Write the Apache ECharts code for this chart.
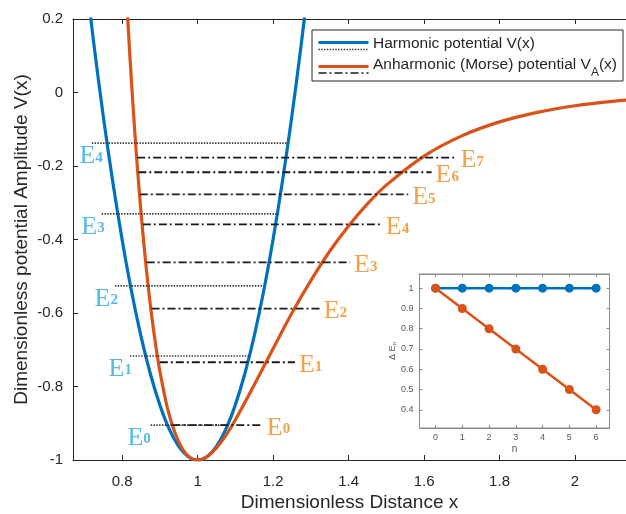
<!DOCTYPE html>
<html>
<head>
<meta charset="utf-8">
<script src="https://cdn.jsdelivr.net/npm/echarts@6/dist/echarts.min.js"></script>
<style>
  html, body { margin: 0; padding: 0; background: #fff; }
  #chart { width: 626px; height: 514px; }
</style>
</head>
<body>
<div id="chart"></div>
<script>
// ---- axis ticks ----
const xTicks = [0.8, 1, 1.2, 1.4, 1.6, 1.8, 2];
const xTickLabels = ['0.8', '1', '1.2', '1.4', '1.6', '1.8', '2'];
const yTicks = [-1, -0.8, -0.6, -0.4, -0.2, 0, 0.2];
const yTickLabels = ['-1', '-0.8', '-0.6', '-0.4', '-0.2', '0', '0.2'];

// ---- harmonic potential V(x) ----
const harmonicX = [0.700, 0.725, 0.750, 0.775, 0.800, 0.825, 0.850, 0.875, 0.900, 0.925, 0.950, 0.975, 1.000,
                   1.025, 1.050, 1.075, 1.100, 1.125, 1.150, 1.175, 1.200, 1.225, 1.250, 1.275, 1.300];
const harmonicV = [0.350, 0.134, -0.063, -0.241, -0.400, -0.541, -0.663, -0.766, -0.850, -0.916, -0.963, -0.991, -1.000,
                   -0.991, -0.963, -0.916, -0.850, -0.766, -0.663, -0.541, -0.400, -0.241, -0.063, 0.134, 0.350];

// ---- anharmonic (Morse) potential V_A(x) ----
const morseX = [0.810, 0.820, 0.830, 0.840, 0.850, 0.860, 0.870, 0.880, 0.890, 0.900, 0.920, 0.940, 0.960, 0.980, 1.000,
                1.025, 1.050, 1.075, 1.100, 1.150, 1.200, 1.250, 1.300, 1.350, 1.400, 1.450, 1.500, 1.600, 1.700,
                1.800, 1.900, 2.000, 2.100, 2.200];
const morseV = [0.295, 0.111, -0.052, -0.197, -0.324, -0.436, -0.535, -0.620, -0.694, -0.758, -0.858, -0.926, -0.970, -0.993, -1.000,
                -0.991, -0.967, -0.933, -0.891, -0.796, -0.697, -0.600, -0.512, -0.432, -0.363, -0.303, -0.252, -0.173, -0.118,
                -0.080, -0.054, -0.036, -0.024, -0.016];

// ---- energy levels ----
const harmonicLevelE    = [-0.905, -0.717, -0.526, -0.330, -0.138];
const harmonicLevelFrom = [0.876, 0.821, 0.781, 0.746, 0.720];
const harmonicLevelTo   = [1.080, 1.139, 1.174, 1.214, 1.240];

const morseLevelE    = [-0.905, -0.734, -0.588, -0.462, -0.359, -0.277, -0.217, -0.177];
const morseLevelFrom = [0.933, 0.900, 0.878, 0.865, 0.855, 0.847, 0.843, 0.840];
const morseLevelTo   = [1.173, 1.258, 1.324, 1.404, 1.488, 1.558, 1.620, 1.686];

// ---- inset: level spacing ΔE_n ----
const insetN = [0, 1, 2, 3, 4, 5, 6];
const insetHarmonic = [1, 1, 1, 1, 1, 1, 1];
const insetMorse = [1, 0.9, 0.8, 0.7, 0.6, 0.5, 0.4];
const insetYTicks = [0.4, 0.5, 0.6, 0.7, 0.8, 0.9, 1];
const insetYTickLabels = ['0.4', '0.5', '0.6', '0.7', '0.8', '0.9', '1'];

// ---- styling ----
const BLUE = '#0072BD';
const ORANGE = '#D95319';
const INK = '#262626';
const BLUE_TEXT = '#29A9E0';
const ORANGE_TEXT = '#F08A1C';
const SANS = '"Liberation Sans", Arial, sans-serif';
const SERIF = '"Liberation Serif", "Times New Roman", serif';
const blueLabelDx = [0, 2, 3, 3, 11];

function labelFor(ticks, labels) {
  return function (v) {
    const i = ticks.findIndex(t => Math.abs(t - v) < 1e-9);
    return i >= 0 ? labels[i] : '';
  };
}

const levelRich = {
  e: { fontFamily: SERIF, fontSize: 26, verticalAlign: 'bottom' },
  n: { fontFamily: SERIF, fontSize: 15, fontWeight: 'bold', verticalAlign: 'bottom', padding: [0, 0, 4, 0] }
};

const series = [];

// potential curves
series.push({
  type: 'line', xAxisIndex: 0, yAxisIndex: 0, name: 'Harmonic potential V(x)',
  data: harmonicX.map((x, i) => [x, harmonicV[i]]),
  showSymbol: false, smooth: 0.3, clip: true, silent: true,
  lineStyle: { color: BLUE, width: 3.2 }, z: 2
});
series.push({
  type: 'line', xAxisIndex: 0, yAxisIndex: 0, name: 'Anharmonic (Morse) potential',
  data: morseX.map((x, i) => [x, morseV[i]]),
  showSymbol: false, smooth: 0.3, clip: true, silent: true,
  lineStyle: { color: ORANGE, width: 3.2 }, z: 3
});

// harmonic levels (dotted)
harmonicLevelE.forEach((e, i) => {
  series.push({
    type: 'line', xAxisIndex: 0, yAxisIndex: 0,
    data: [[harmonicLevelFrom[i], e], [harmonicLevelTo[i], e]],
    showSymbol: false, silent: true,
    lineStyle: { color: '#333', width: 1.7, type: [1.4, 1.4] }, z: 4
  });
});
// Morse levels (dash-dot)
morseLevelE.forEach((e, i) => {
  series.push({
    type: 'line', xAxisIndex: 0, yAxisIndex: 0,
    data: [[morseLevelFrom[i], e], [morseLevelTo[i], e]],
    showSymbol: false, silent: true,
    lineStyle: { color: '#1a1a1a', width: 1.8, type: [8, 3, 2, 3] }, z: 5
  });
});

// level labels
series.push({
  type: 'scatter', xAxisIndex: 0, yAxisIndex: 0, symbolSize: 0, silent: true, z: 6,
  itemStyle: { color: 'rgba(0,0,0,0)' },
  data: harmonicLevelE.map((e, i) => ({
    value: [harmonicLevelFrom[i], e],
    label: { offset: [blueLabelDx[i], 0] }
  })),
  label: {
    show: true, position: [0, 0], align: 'right', verticalAlign: 'top',
    color: BLUE_TEXT, rich: {
      e: Object.assign({}, levelRich.e, { color: BLUE_TEXT }),
      n: Object.assign({}, levelRich.n, { color: BLUE_TEXT })
    },
    formatter: p => '{e|E}{n|' + p.dataIndex + '}'
  }
});
series.push({
  type: 'scatter', xAxisIndex: 0, yAxisIndex: 0, symbolSize: 0, silent: true, z: 6,
  itemStyle: { color: 'rgba(0,0,0,0)' },
  data: morseLevelE.map((e, i) => [morseLevelTo[i], e]),
  label: {
    show: true, position: [0, 0], align: 'left', verticalAlign: 'middle', offset: [4, 3],
    color: ORANGE_TEXT, rich: {
      e: Object.assign({}, levelRich.e, { color: ORANGE_TEXT }),
      n: Object.assign({}, levelRich.n, { color: ORANGE_TEXT })
    },
    formatter: p => '{e|E}{n|' + p.dataIndex + '}'
  }
});

// inset series
series.push({
  type: 'line', xAxisIndex: 2, yAxisIndex: 1, silent: true,
  data: insetN.map((n, i) => [n, insetHarmonic[i]]),
  symbol: 'circle', symbolSize: 9,
  itemStyle: { color: BLUE }, lineStyle: { color: BLUE, width: 2.5 }, z: 10
});
series.push({
  type: 'line', xAxisIndex: 2, yAxisIndex: 1, silent: true,
  data: insetN.map((n, i) => [n, insetMorse[i]]),
  symbol: 'circle', symbolSize: 9,
  itemStyle: { color: ORANGE }, lineStyle: { color: ORANGE, width: 2.5 }, z: 11
});

const mainAxisLine = { show: true, onZero: false, lineStyle: { color: INK, width: 1 } };
const insetColor = '#8c8c8c';
const insetAxisLine = { show: true, onZero: false, lineStyle: { color: insetColor, width: 1 } };

const option = {
  animation: false,
  backgroundColor: '#fff',
  grid: [
    { left: 73, top: 19, width: 553, height: 441, outerBoundsMode: 'none', containLabel: false },
    { left: 419.5, top: 274, width: 190, height: 154, show: true, outerBoundsMode: 'none', containLabel: false,
      backgroundColor: '#fff', borderColor: insetColor, borderWidth: 1, z: 8 }
  ],
  xAxis: [
    {
      type: 'value', gridIndex: 0, position: 'bottom', min: 0.67, max: 2.135,
      axisLine: mainAxisLine, splitLine: { show: false },
      axisTick: { show: true, inside: true, length: 5, customValues: xTicks, lineStyle: { color: INK } },
      axisLabel: { show: true, customValues: xTicks, formatter: labelFor(xTicks, xTickLabels),
                   fontFamily: SANS, fontSize: 15, color: INK, margin: 14 },
      name: 'Dimensionless Distance x', nameLocation: 'middle', nameGap: 33, nameMoveOverlap: false,
      nameTextStyle: { fontFamily: SANS, fontSize: 19, color: INK }
    },
    {
      type: 'value', gridIndex: 0, position: 'top', min: 0.67, max: 2.135,
      axisLine: mainAxisLine, splitLine: { show: false },
      axisTick: { show: true, inside: true, length: 5, customValues: xTicks, lineStyle: { color: INK } },
      axisLabel: { show: false }
    },
    {
      type: 'value', gridIndex: 1, position: 'bottom', min: -0.6, max: 6.5,
      axisLine: insetAxisLine, splitLine: { show: false }, z: 9,
      axisTick: { show: true, inside: true, length: 3, customValues: insetN, lineStyle: { color: insetColor } },
      axisLabel: { show: true, customValues: insetN, fontFamily: SANS, fontSize: 9, color: '#555', margin: 5 },
      name: 'n', nameLocation: 'middle', nameGap: 16, nameMoveOverlap: false,
      nameTextStyle: { fontFamily: SANS, fontSize: 10, color: '#555' }
    },
    {
      type: 'value', gridIndex: 1, position: 'top', min: -0.6, max: 6.5,
      axisLine: insetAxisLine, splitLine: { show: false }, z: 9,
      axisTick: { show: true, inside: true, length: 3, customValues: insetN, lineStyle: { color: insetColor } },
      axisLabel: { show: false }
    }
  ],
  yAxis: [
    {
      type: 'value', gridIndex: 0, position: 'left', min: -1, max: 0.2,
      axisLine: mainAxisLine, splitLine: { show: false },
      axisTick: { show: true, inside: true, length: 5, customValues: yTicks, lineStyle: { color: INK } },
      axisLabel: { show: true, customValues: yTicks, formatter: labelFor(yTicks, yTickLabels),
                   fontFamily: SANS, fontSize: 15, color: INK, margin: 10 },
      name: 'Dimensionless potential Amplitude V(x)', nameLocation: 'middle', nameGap: 42, nameRotate: 90,
      nameMoveOverlap: false,
      nameTextStyle: { fontFamily: SANS, fontSize: 19, color: INK }
    },
    {
      type: 'value', gridIndex: 1, position: 'left', min: 0.31, max: 1.07,
      axisLine: insetAxisLine, splitLine: { show: false }, z: 9,
      axisTick: { show: true, inside: true, length: 3, customValues: insetYTicks, lineStyle: { color: insetColor } },
      axisLabel: { show: true, customValues: insetYTicks, formatter: labelFor(insetYTicks, insetYTickLabels),
                   fontFamily: SANS, fontSize: 9, color: '#555', margin: 6 },
      name: 'Δ E{s|n}', nameLocation: 'middle', nameGap: 22, nameRotate: 90, nameMoveOverlap: false,
      nameTextStyle: { fontFamily: SANS, fontSize: 9, color: '#555',
                       rich: { s: { fontFamily: SANS, fontSize: 6, color: '#555', verticalAlign: 'bottom' } } }
    },
    {
      type: 'value', gridIndex: 1, position: 'right', min: 0.31, max: 1.07,
      axisLine: insetAxisLine, splitLine: { show: false }, z: 9,
      axisTick: { show: true, inside: true, length: 3, customValues: insetYTicks, lineStyle: { color: insetColor } },
      axisLabel: { show: false }
    }
  ],
  series: series,
  graphic: [
    {
      type: 'group', left: 311.5, top: 29.5, z: 100,
      children: [
        { type: 'rect', shape: { x: 0, y: 0, width: 311, height: 51 },
          style: { fill: '#fff', stroke: INK, lineWidth: 1 } },
        { type: 'line', shape: { x1: 6.5, y1: 12.5, x2: 56.5, y2: 12.5 },
          style: { stroke: BLUE, lineWidth: 3 } },
        { type: 'line', shape: { x1: 6.5, y1: 19.5, x2: 56.5, y2: 19.5 },
          style: { stroke: '#333', lineWidth: 1.5, lineDash: [1.4, 1.4] } },
        { type: 'line', shape: { x1: 6.5, y1: 36.5, x2: 56.5, y2: 36.5 },
          style: { stroke: ORANGE, lineWidth: 3 } },
        { type: 'line', shape: { x1: 6.5, y1: 43, x2: 56.5, y2: 43 },
          style: { stroke: '#1a1a1a', lineWidth: 1.5, lineDash: [8, 3, 2, 3] } },
        { type: 'text', x: 61, y: 14,
          style: { text: 'Harmonic potential V(x)', font: '15.5px ' + SANS, fill: INK, verticalAlign: 'middle' } },
        { type: 'text', x: 61, y: 35,
          style: { text: 'Anharmonic (Morse) potential V{s|A}(x)', font: '15.5px ' + SANS, fill: INK,
                   verticalAlign: 'middle',
                   rich: { s: { fontFamily: SANS, fontSize: 12, fill: INK, verticalAlign: 'bottom', padding: [0, 0, -6, 0] } } } }
      ]
    }
  ]
};

const chart = echarts.init(document.getElementById('chart'), null, { renderer: 'canvas' });
chart.setOption(option);
</script>
</body>
</html>
